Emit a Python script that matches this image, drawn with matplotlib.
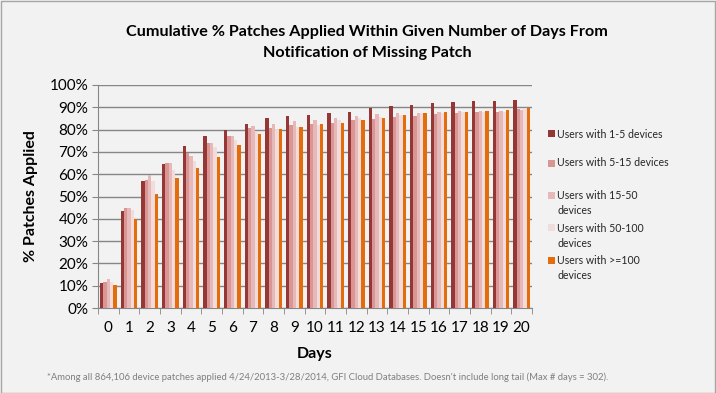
import matplotlib
matplotlib.use("Agg")
import matplotlib.pyplot as plt
import numpy as np
from matplotlib.patches import Rectangle

days = list(range(21))
series_labels = ["Users with 1-5 devices", "Users with 5-15 devices",
                 "Users with 15-50\ndevices", "Users with 50-100\ndevices",
                 "Users with >=100\ndevices"]
u1_5 = [11.0, 43.4, 56.9, 64.7, 72.8, 77.1, 79.8, 82.6, 85.0, 86.1, 86.5,
        87.3, 88.0, 89.8, 90.7, 91.0, 92.0, 92.2, 92.8, 92.8, 93.3]
u5_15 = [11.5, 45.0, 57.3, 65.1, 69.3, 74.1, 77.1, 80.8, 80.5, 82.0, 82.3,
         83.1, 84.3, 84.6, 85.8, 86.1, 86.8, 87.3, 87.7, 87.7, 89.1]
u15_50 = [13.2, 45.0, 59.6, 65.0, 68.0, 73.8, 77.0, 81.5, 82.5, 83.8, 84.3,
          85.0, 86.1, 86.8, 87.3, 87.6, 88.0, 88.3, 88.3, 88.3, 89.0]
u50_100 = [11.5, 44.0, 57.0, 62.0, 66.0, 72.3, 75.3, 79.0, 79.8, 81.3, 82.0,
           84.3, 85.0, 85.8, 86.5, 87.3, 87.5, 87.8, 88.0, 88.0, 89.5]
u100 = [10.5, 40.0, 51.2, 58.4, 62.7, 67.7, 72.9, 78.0, 80.1, 81.3, 82.3,
        83.1, 84.3, 85.0, 86.5, 87.3, 87.7, 88.0, 88.3, 88.8, 89.6]
yticks = list(range(0, 101, 10))
colors = ["#953735", "#D99694", "#E6B9B8", "#F2DCDB", "#E46C0A"]

FONT = ["Lato", "DejaVu Sans"]
plt.rcParams['font.family'] = FONT

fig = plt.figure(figsize=(7.16, 3.93), dpi=100, facecolor="#F2F2F2")
ax = fig.add_axes([98/716, 1-308/393, (532-98)/716, (308-85)/393])
ax.set_facecolor("#F2F2F2")

data = [u1_5, u5_15, u15_50, u50_100, u100]
x = np.arange(len(days))
w = 0.16
bars = []
for i, (vals, c) in enumerate(zip(data, colors)):
    b = ax.bar(x + (i - 2) * w, vals, width=w, color=c, zorder=3)
    bars.append(b)

ax.set_ylim(0, 100)
ax.set_xlim(-0.5, 20.5)
ax.set_yticks(yticks)
ax.set_yticklabels([f"{t}%" for t in yticks], fontsize=11)
ax.yaxis.grid(True, color="#868686", linewidth=1, zorder=0)
ax.set_xticks(x)
ax.set_xticklabels([str(d) for d in days], fontsize=11)
ax.set_xticks(np.arange(-0.5, 21, 1), minor=True)
ax.tick_params(axis='x', which='major', length=0, pad=9)
ax.tick_params(axis='x', which='minor', length=4, color="#868686", direction='out')
ax.tick_params(axis='y', length=4, color="#868686", pad=3)
for s in ["top", "right"]:
    ax.spines[s].set_visible(False)
for s in ["left", "bottom"]:
    ax.spines[s].set_color("#868686")
ax.set_xlabel("Days", fontsize=11.5, fontweight="bold", labelpad=9)
ax.set_ylabel("% Patches Applied", fontsize=11.5, fontweight="bold", labelpad=8)

fig.text(367/716, 1-32/393, "Cumulative % Patches Applied Within Given Number of Days From",
         ha="center", va="center", fontsize=11.6, fontweight="bold")
fig.text(367/716, 1-53/393, "Notification of Missing Patch",
         ha="center", va="center", fontsize=11.6, fontweight="bold")

# legend (manual layout like Excel)
leg_y = [134, 163, 203, 236, 268]
for yy, lab, c in zip(leg_y, series_labels, colors):
    two = "\n" in lab
    cy = yy - 8 if two else yy
    fig.patches.append(Rectangle((548/716, 1-(cy+3.5)/393),
                                 7/716, 7/393, transform=fig.transFigure,
                                 facecolor=c, edgecolor="none"))
    fig.text(557/716, 1-yy/393, lab, ha="left", va="center", fontsize=7.6,
             linespacing=1.55, color="#262626")

fig.text(47/716, 1-377/393,
         "*Among all 864,106 device patches applied 4/24/2013-3/28/2014, GFI Cloud Databases. "
         "Doesn't include long tail (Max # days = 302).",
         ha="left", va="center", fontsize=6.8, color="#7F7F7F")

fig.patches.append(Rectangle((0.5/716, 0.5/393), 714.5/716, 391.5/393, transform=fig.transFigure,
                             facecolor="none", edgecolor="#A6A6A6", linewidth=1))

fig.savefig("out.png", dpi=100, facecolor=fig.get_facecolor())
